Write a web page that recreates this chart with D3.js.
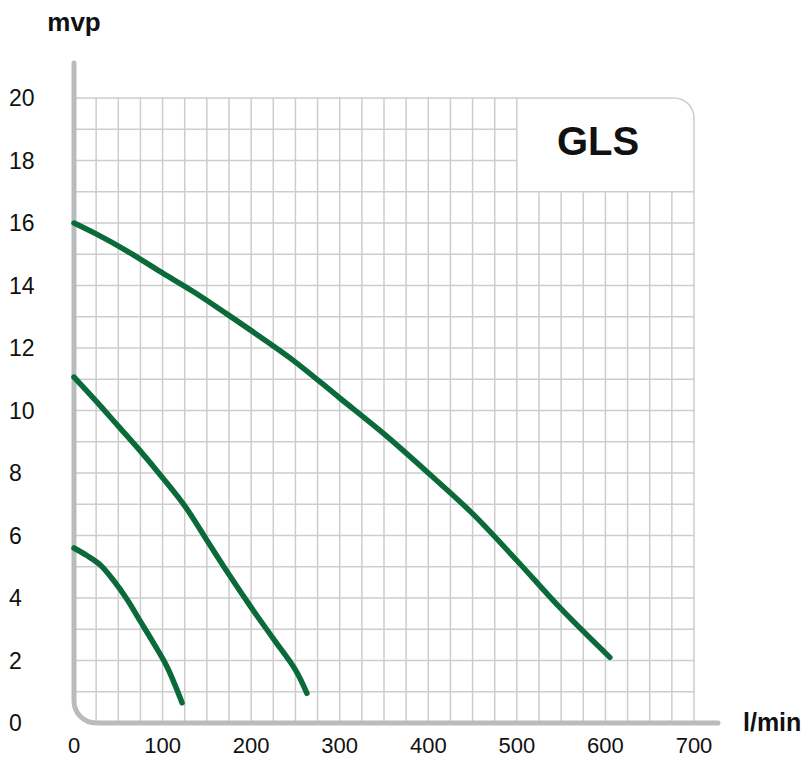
<!DOCTYPE html>
<html>
<head>
<meta charset="utf-8">
<script src="https://cdn.jsdelivr.net/npm/d3@7/dist/d3.min.js"></script>
<style>
  html, body { margin: 0; padding: 0; background: #ffffff; }
  svg { display: block; }
  text { font-family: "Liberation Sans", Arial, Helvetica, sans-serif; fill: #111111; }
</style>
</head>
<body>
<div id="chart"></div>
<script>
// ---- data ----
const xTickLabels = [0, 100, 200, 300, 400, 500, 600, 700];
const yTickLabels = [0, 2, 4, 6, 8, 10, 12, 14, 16, 18, 20];
const curveTopQ = [0, 25, 60, 97, 135, 172, 210, 250, 300, 350, 400, 450, 500, 550, 605];
const curveTopH = [16.0, 15.65, 15.1, 14.45, 13.8, 13.1, 12.36, 11.55, 10.4, 9.25, 8.0, 6.7, 5.2, 3.65, 2.1];
const curveMidQ = [0, 25, 50, 75, 100, 125, 150, 175, 200, 225, 250, 263];
const curveMidH = [11.07, 10.3, 9.5, 8.7, 7.85, 6.95, 5.85, 4.75, 3.7, 2.7, 1.7, 0.95];
const curveLowQ = [0, 15, 30, 45, 60, 75, 90, 105, 122];
const curveLowH = [5.6, 5.35, 5.05, 4.55, 3.95, 3.25, 2.55, 1.8, 0.65];
const title = "GLS";
const yTitle = "mvp";
const xTitle = "l/min";

// ---- layout ----
const W = 807, H = 758;
const x = d3.scaleLinear().domain([0, 700]).range([74, 694]);
const y = d3.scaleLinear().domain([0, 20]).range([723, 98]);

const svg = d3.select("#chart").append("svg").attr("width", W).attr("height", H);

const gridColor = "#cdcdcd";
const grid = svg.append("g").attr("stroke", gridColor).attr("stroke-width", 1.5).attr("fill", "none");

// box region (GLS label) : q 500..700, h 17..20
const boxQ0 = 500, boxH0 = 17;

// vertical gridlines every 25 l/min
d3.range(25, 700, 25).forEach(q => {
  const top = q > boxQ0 ? y(boxH0) : y(20);
  grid.append("line").attr("x1", x(q)).attr("x2", x(q)).attr("y1", top).attr("y2", y(0));
});
// horizontal gridlines every 1 m
d3.range(1, 20, 1).forEach(h => {
  const right = h > boxH0 ? x(boxQ0) : x(700);
  grid.append("line").attr("x1", x(0)).attr("x2", right).attr("y1", y(h)).attr("y2", y(h));
});
// outer top/right border with rounded corner
const rc = 20;
grid.append("path").attr("d",
  `M${x(0)},${y(20)} L${x(700) - rc},${y(20)} A${rc},${rc} 0 0 1 ${x(700)},${y(20) + rc} L${x(700)},${y(0)}`);

// axes (grey, rounded corner)
const ra = 22;
svg.append("path")
  .attr("d", `M${x(0)},63 L${x(0)},${y(0) - ra} A${ra},${ra} 0 0 0 ${x(0) + ra},${y(0)} L718,${y(0)}`)
  .attr("fill", "none").attr("stroke", "#b9bcbf").attr("stroke-width", 5).attr("stroke-linecap", "round");

// curves
const line = d3.line().x(d => x(d[0])).y(d => y(d[1])).curve(d3.curveCatmullRom.alpha(0.5));
[[curveTopQ, curveTopH], [curveMidQ, curveMidH], [curveLowQ, curveLowH]].forEach(([qs, hs]) => {
  svg.append("path")
    .datum(qs.map((q, i) => [q, hs[i]]))
    .attr("d", line)
    .attr("fill", "none").attr("stroke", "#0b6a3a").attr("stroke-width", 5.5)
    .attr("stroke-linecap", "round").attr("stroke-linejoin", "round");
});

// tick labels
svg.append("g").selectAll("text").data(xTickLabels).join("text")
  .attr("x", d => x(d)).attr("y", 753).attr("text-anchor", "middle")
  .attr("font-size", 22).text(d => d);
svg.append("g").selectAll("text").data(yTickLabels).join("text")
  .attr("x", 9).attr("y", d => y(d)).attr("dy", "0.36em").attr("text-anchor", "start")
  .attr("font-size", 23).text(d => d);

// titles
svg.append("text").attr("x", 74).attr("y", 31).attr("text-anchor", "middle")
  .attr("font-size", 26).attr("font-weight", "bold").text(yTitle);
svg.append("text").attr("x", 743).attr("y", 731).attr("text-anchor", "start")
  .attr("font-size", 25).attr("font-weight", "bold").text(xTitle);
svg.append("text").attr("x", 598).attr("y", 155).attr("text-anchor", "middle")
  .attr("font-size", 40).attr("font-weight", "bold").text(title);
</script>
</body>
</html>
